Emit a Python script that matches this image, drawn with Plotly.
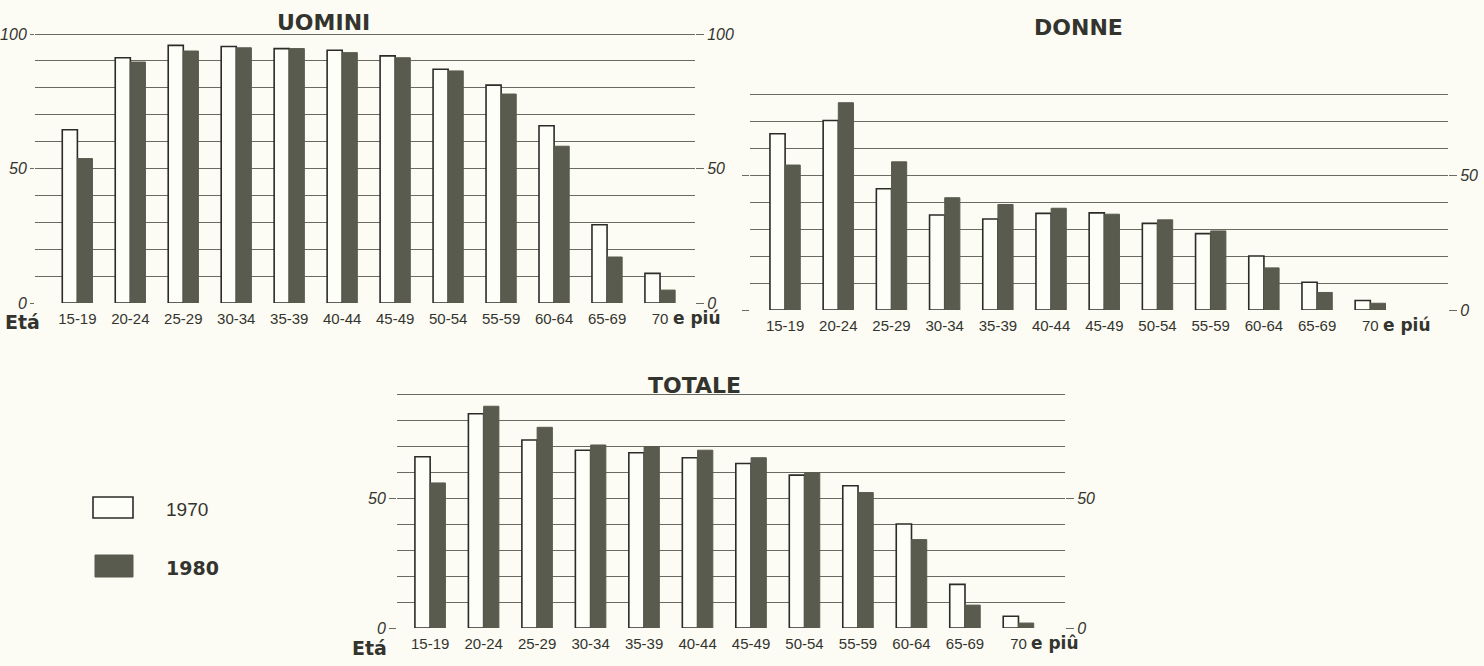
import plotly.graph_objects as go

# Tassi di attività per classe di età (%), 1970 e 1980
eta = ['15-19', '20-24', '25-29', '30-34', '35-39', '40-44',
       '45-49', '50-54', '55-59', '60-64', '65-69', '70+']

uomini_1970 = [64.4, 91.2, 95.8, 95.4, 94.6, 94.0, 91.9, 86.9, 81.0, 65.9, 29.1, 11.0]
uomini_1980 = [53.7, 89.6, 93.7, 94.9, 94.6, 93.1, 91.2, 86.3, 77.7, 58.3, 17.1, 4.8]
donne_1970 = [65.3, 70.2, 44.9, 35.2, 33.7, 35.8, 36.0, 32.1, 28.3, 20.0, 10.3, 3.5]
donne_1980 = [53.7, 76.8, 54.9, 41.6, 39.1, 37.7, 35.5, 33.4, 29.3, 15.6, 6.5, 2.5]
totale_1970 = [65.9, 82.4, 72.3, 68.4, 67.4, 65.5, 63.3, 58.8, 54.7, 40.0, 16.8, 4.5]
totale_1980 = [55.8, 85.3, 77.2, 70.4, 69.8, 68.4, 65.5, 59.7, 52.1, 34.0, 8.8, 1.9]

etichette = ['15-19', '20-24', '25-29', '30-34', '35-39', '40-44',
             '45-49', '50-54', '55-59', '60-64', '65-69', '70']

SFONDO = '#fcfcf4'
SCURO = '#585b4d'
CHIARO = '#fefef9'
BORDO = '#2b2b28'
GRIGLIA = '#6a6a62'
TESTO = '#34342f'

W, H = 1484, 666


def px_x(a, b):
    return [a / W, b / W]


def px_y(top, bottom):
    return [1 - bottom / H, 1 - top / H]


fig = go.Figure()

pannelli = [
    ('x', 'y', uomini_1970, uomini_1980),
    ('x2', 'y2', donne_1970, donne_1980),
    ('x3', 'y3', totale_1970, totale_1980),
]
for xa, ya, v70, v80 in pannelli:
    fig.add_trace(go.Bar(
        x=eta, y=v70, xaxis=xa, yaxis=ya, name='1970', showlegend=False,
        marker=dict(color=CHIARO, line=dict(color=BORDO, width=1.6))
    ))
    fig.add_trace(go.Bar(
        x=eta, y=v80, xaxis=xa, yaxis=ya, name='1980', showlegend=False,
        marker=dict(color=SCURO, line=dict(color=SCURO, width=1))
    ))

tick_font = dict(family='Liberation Sans, DejaVu Sans, sans-serif', size=16,
                 color=TESTO, style='italic')
cat_font = dict(family='Liberation Sans, sans-serif', size=15, color=TESTO)


def asse_x(dominio, rng, ancora):
    return dict(domain=dominio, anchor=ancora, range=rng, type='category',
                tickvals=eta, ticktext=etichette, tickfont=cat_font, tickangle=0,
                showgrid=False, zeroline=False, showline=False, ticks='',
                ticklabelstandoff=5, automargin=False)


def asse_y(dominio, ymax, ancora, valori, etichette_y, mostra=True, lung=7):
    return dict(domain=dominio, anchor=ancora, range=[0, ymax],
                tickvals=valori, ticktext=etichette_y, showticklabels=mostra,
                tickfont=tick_font, ticks='outside', ticklen=lung, tickwidth=1.4,
                tickcolor=GRIGLIA, showgrid=True, gridcolor=GRIGLIA, gridwidth=1.2,
                minor=dict(dtick=10, tick0=0, showgrid=True, gridcolor=GRIGLIA,
                           gridwidth=1.2, ticks=''),
                zeroline=False, showline=False, automargin=False)


def asse_destro(sovrapposto, ymax, ancora, valori, etichette_y):
    return dict(overlaying=sovrapposto, side='right', anchor=ancora, range=[0, ymax],
                tickvals=valori, ticktext=etichette_y, tickfont=tick_font,
                ticks='outside', ticklen=8, tickwidth=1.4, tickcolor=GRIGLIA,
                showgrid=False, zeroline=False, showline=False, automargin=False)


fig.update_layout(
    width=W, height=H,
    margin=dict(l=0, r=0, t=0, b=0, pad=0),
    paper_bgcolor=SFONDO, plot_bgcolor=SFONDO,
    barmode='group', bargap=0.43, bargroupgap=0,
    xaxis=asse_x(px_x(35, 695), [-0.8, 11.66], 'y'),
    yaxis=asse_y(px_y(33, 303), 100.4, 'x', [0, 50, 100], ['0', '50', '100'], lung=4),
    xaxis2=asse_x(px_x(750, 1448), [-0.66, 12.46], 'y2'),
    yaxis2=asse_y(px_y(93, 310), 80.4, 'x2', [0, 50], ['', ''], mostra=False),
    xaxis3=asse_x(px_x(397, 1065), [-0.62, 11.87], 'y3'),
    yaxis3=asse_y(px_y(393, 628), 90.4, 'x3', [0, 50], ['0', '50']),
    yaxis4=asse_destro('y', 100.4, 'x', [0, 50, 100], ['0', '50', '100']),
    yaxis5=asse_destro('y2', 80.4, 'x2', [0, 50], ['0', '50']),
    yaxis6=asse_destro('y3', 90.4, 'x3', [0, 50], ['0', '50']),
)

# assi destri: tracce invisibili per attivarli
for ya, xa in [('y4', 'x'), ('y5', 'x2'), ('y6', 'x3')]:
    fig.add_trace(go.Scatter(x=[eta[0]], y=[0], xaxis=xa, yaxis=ya, mode='markers',
                             marker=dict(opacity=0), showlegend=False, hoverinfo='skip'))

# "e più" dopo l'ultima classe di età
piu_font = dict(family='DejaVu Sans, sans-serif', size=17, color=TESTO, weight='bold')
for xa, ya, testo in [('x', 'y', 'e piú'), ('x2', 'y2', 'e piú'), ('x3', 'y3', 'e piû')]:
    fig.add_annotation(text=testo, x=eta[-1], y=0, xref=xa, yref=ya, showarrow=False,
                       xanchor='left', yanchor='middle', xshift=11, yshift=-15,
                       font=piu_font)

titolo_font = dict(family='DejaVu Sans, sans-serif', size=22, color=TESTO, weight='bold')
for testo, xp, yp in [('UOMINI', 323, 22), ('DONNE', 1078, 27), ('TOTALE', 694, 385)]:
    fig.add_annotation(text=testo, x=xp / W, y=1 - yp / H, xref='paper', yref='paper',
                       showarrow=False, font=titolo_font, xanchor='center', yanchor='middle')

eta_font = dict(family='DejaVu Sans, sans-serif', size=19, color=TESTO, weight='bold')
for xp, yp in [(3, 322), (350, 648)]:
    fig.add_annotation(text='Etá', x=xp / W, y=1 - yp / H, xref='paper', yref='paper',
                       showarrow=False, font=eta_font, xanchor='left', yanchor='middle')

# legenda
fig.add_shape(type='rect', xref='paper', yref='paper',
              x0=93 / W, x1=133 / W, y0=1 - 518 / H, y1=1 - 497 / H,
              line=dict(color=BORDO, width=1.6), fillcolor=CHIARO)
fig.add_shape(type='rect', xref='paper', yref='paper',
              x0=95 / W, x1=133 / W, y0=1 - 577 / H, y1=1 - 555 / H,
              line=dict(color=SCURO, width=1), fillcolor=SCURO)
fig.add_annotation(text='1970', x=164 / W, y=1 - 510 / H, xref='paper', yref='paper',
                   showarrow=False, xanchor='left', yanchor='middle',
                   font=dict(family='Liberation Sans, sans-serif', size=19, color=TESTO))
fig.add_annotation(text='1980', x=164 / W, y=1 - 568 / H, xref='paper', yref='paper',
                   showarrow=False, xanchor='left', yanchor='middle',
                   font=dict(family='DejaVu Sans, sans-serif', size=19, color=TESTO, weight='bold'))

fig.write_html("out.html", config={'displayModeBar': False},
               post_script="document.body.style.margin='0';"
                           "document.body.style.background='%s';" % SFONDO)
